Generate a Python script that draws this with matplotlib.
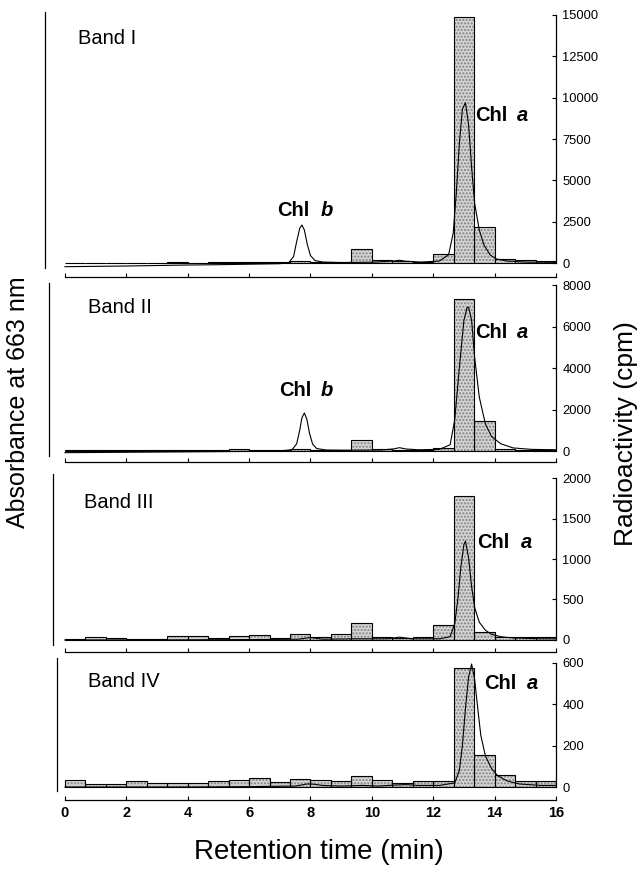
import numpy as np
import matplotlib
matplotlib.use('Agg')
import matplotlib.pyplot as plt

plt.rcParams['font.family'] = ['Liberation Sans', 'DejaVu Sans']

# fraction edges (min): 24 fractions of 40 s over 16 min
edges = np.linspace(0, 16, 25)

# radioactivity per fraction (cpm)
cpm_band1 = [20, 20, 25, 30, 30, 35, 30, 40, 40, 45, 60, 150, 60, 80, 850, 180, 100, 60, 550, 14850, 2200, 240, 160, 100]
cpm_band2 = [30, 30, 40, 50, 40, 40, 60, 60, 80, 60, 50, 80, 60, 60, 550, 120, 60, 60, 150, 7350, 1450, 100, 50, 50]
cpm_band3 = [10, 40, 20, 15, 8, 45, 45, 30, 45, 65, 30, 80, 35, 80, 210, 35, 22, 32, 185, 1780, 100, 40, 40, 40]
cpm_band4 = [32, 16, 16, 28, 20, 20, 20, 31, 35, 45, 23, 40, 35, 28, 55, 36, 22, 30, 28, 576, 155, 56, 27, 27]

# absorbance traces (drawn in the cpm units of each panel)
t_band1 = [0, 1, 2, 3, 4, 5, 6, 7, 7.3, 7.45, 7.55, 7.65, 7.72, 7.8, 7.9, 8.0, 8.15, 8.4, 9, 10, 10.7, 10.9, 11.1, 11.6,
           12.2, 12.5, 12.65, 12.75, 12.85, 12.95, 13.05, 13.15, 13.25, 13.35, 13.5, 13.65, 13.85, 14.05, 14.4, 15, 16]
abs_band1 = [-220, -200, -180, -150, -120, -100, -70, -40, 40, 400, 1300, 2100, 2300, 2000, 1100, 450, 150, 60, 30, 50, 120, 170, 110, 60,
             120, 500, 1800, 4200, 7200, 9300, 9700, 8400, 5800, 3600, 2000, 1100, 500, 250, 120, 60, 40]

t_band2 = [0, 2, 4, 6, 7.0, 7.4, 7.55, 7.65, 7.72, 7.8, 7.88, 7.97, 8.07, 8.2, 8.5, 9, 9.5, 10.3, 10.7, 10.9, 11.1, 11.5,
           12.2, 12.55, 12.7, 12.85, 13.0, 13.1, 13.15, 13.25, 13.35, 13.5, 13.7, 13.9, 14.2, 14.6, 15.2, 16]
abs_band2 = [-80, -60, -40, -20, 10, 60, 350, 1000, 1600, 1830, 1550, 850, 330, 120, 50, 40, 40, 50, 100, 160, 100, 60,
             80, 300, 1500, 4000, 6300, 6900, 6940, 6300, 4500, 2600, 1300, 700, 350, 150, 80, 60]

t_band3 = [0, 3, 6, 7.6, 8.0, 8.4, 9.5, 10.5, 10.9, 11.3, 12.2, 12.55, 12.7, 12.8, 12.9, 13.0, 13.05, 13.15, 13.25, 13.35,
           13.5, 13.7, 13.9, 14.2, 14.6, 15.5, 16]
abs_band3 = [0, 0, 5, 10, 30, 10, 15, 15, 35, 15, 15, 40, 200, 500, 900, 1180, 1220, 1020, 660, 400,
             220, 120, 70, 40, 25, 15, 15]

t_band4 = [0, 2, 4, 6, 7.5, 7.9, 8.1, 8.4, 9, 9.7, 10.2, 10.8, 11.1, 11.5, 12.2, 12.7, 12.85, 12.95, 13.05, 13.15,
           13.25, 13.35, 13.45, 13.55, 13.7, 13.9, 14.1, 14.4, 14.8, 15.5, 16]
abs_band4 = [0, 0, 0, 2, 5, 15, 14, 8, 5, 8, 5, 10, 12, 8, 8, 20, 80, 200, 380, 530,
             595, 520, 380, 250, 150, 90, 55, 30, 15, 8, 8]

band_names = ['Band I', 'Band II', 'Band III', 'Band IV']
right_ticks = [[0, 2500, 5000, 7500, 10000, 12500, 15000],
               [0, 2000, 4000, 6000, 8000],
               [0, 500, 1000, 1500, 2000],
               [0, 200, 400, 600]]
# label anchors (min, cpm)
band_pos = [(0.42, 13600), (0.75, 6940), (0.62, 1700), (0.75, 508)]
chl_b_pos = [((6.9, 8.72), 3200), ((6.97, 8.72), 2940), None, None]
chl_a_pos = [((13.36, 15.1), 8950), ((13.36, 15.1), 5690), ((13.42, 15.22), 1210), ((13.65, 15.41), 503)]

W, H = 641, 869
fig = plt.figure(figsize=(W / 100, H / 100), dpi=100)

# panel geometry in pixels: left spine x, bottom y, top y, y limits, x-axis offset (pt)
panels = [(45, 268.0, 12.5, -300, 15150, 6.5),
          (49, 456.0, 283.0, -240, 8100, 4.0),
          (53, 645.0, 474.0, -62, 2050, 5.0),
          (57, 791.0, 658.0, -19, 624, 6.5)]
x_right = 556
px_per_min = 30.69

all_cpm = [cpm_band1, cpm_band2, cpm_band3, cpm_band4]
all_t = [t_band1, t_band2, t_band3, t_band4]
all_abs = [abs_band1, abs_band2, abs_band3, abs_band4]

for i in range(4):
    xl, bpx, tpx, ymin, ymax, off = panels[i]
    ax = fig.add_axes([xl / W, (H - bpx) / H, (x_right - xl) / W, (bpx - tpx) / H])
    ax.set_xlim(16 - (x_right - xl) / px_per_min, 16.0)
    ax.set_ylim(ymin, ymax)

    # stippled bars: fill first, outline on top
    ax.bar(edges[:-1], all_cpm[i], width=2 / 3, align='edge', color='#d4d4d4',
           edgecolor='#808080', hatch='.....', linewidth=0, zorder=1)
    ax.bar(edges[:-1], all_cpm[i], width=2 / 3, align='edge', fill=False,
           edgecolor='black', linewidth=0.8, zorder=2)
    ax.plot(all_t[i], all_abs[i], color='black', linewidth=0.8, zorder=3)

    ax.spines['top'].set_visible(False)
    ax.spines['left'].set_linewidth(0.9)
    ax.spines['right'].set_linewidth(0.9)
    ax.spines['right'].set_bounds(0, right_ticks[i][-1])
    ax.spines['bottom'].set_position(('outward', off))
    ax.spines['bottom'].set_bounds(0, 16)
    ax.spines['bottom'].set_linewidth(0.9)

    ax.yaxis.tick_right()
    ax.set_yticks(right_ticks[i])
    ax.tick_params(axis='y', direction='in', length=3, width=0.8, labelsize=9.3, pad=4.5)
    ax.set_xticks(range(0, 17, 2))
    ax.tick_params(axis='x', direction='in', length=3, width=0.8, pad=4)
    if i < 3:
        ax.set_xticklabels([])
    else:
        ax.set_xticklabels([str(v) for v in range(0, 17, 2)], fontsize=10.5, fontweight='bold')

    ax.text(band_pos[i][0], band_pos[i][1], band_names[i], fontsize=14.5, va='center', ha='left')
    if chl_b_pos[i] is not None:
        (x0, x1), y = chl_b_pos[i]
        ax.text(x0, y, 'Chl', fontsize=14.5, fontweight='bold', ha='left', va='center')
        ax.text(x1, y, 'b', fontsize=14.5, fontweight='bold', style='italic', ha='right', va='center')
    (x0, x1), y = chl_a_pos[i]
    ax.text(x0, y, 'Chl', fontsize=14.5, fontweight='bold', ha='left', va='center')
    ax.text(x1, y, 'a', fontsize=14.5, fontweight='bold', style='italic', ha='right', va='center')

fig.text(18 / W, 1 - 402 / H, 'Absorbance at 663 nm', rotation=90, fontsize=18,
         ha='center', va='center')
fig.text(626 / W, 1 - 434 / H, 'Radioactivity (cpm)', rotation=90, fontsize=19,
         ha='center', va='center')
fig.text(319 / W, 1 - 852 / H, 'Retention time (min)', fontsize=20, ha='center', va='center')

fig.savefig('out.png', dpi=100)
